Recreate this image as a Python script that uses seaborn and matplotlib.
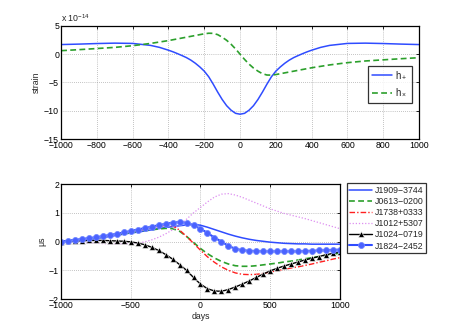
import matplotlib
matplotlib.use("Agg")
import matplotlib.pyplot as plt
import numpy as np
import pandas as pd
import seaborn as sns

# top panel: days, denser sampling around the burst
wave_days = [-1000, -900, -800, -700, -600, -500, -450, -400, -375, -350,
             -325, -300, -275, -250, -225, -200, -175, -150, -125, -100,
             -75, -50, -25, 0, 25, 50, 75, 100, 125, 150, 175, 200, 225,
             250, 275, 300, 325, 350, 375, 400, 450, 500, 600, 700, 800,
             900, 1000]
# strain waveforms, units of 1e-14
h_plus = [1.70, 1.78, 1.88, 1.95, 1.90, 1.55, 1.20, 0.70, 0.42, 0.10,
          -0.24, -0.60, -1.05, -1.60, -2.25, -3.00, -4.00, -5.30, -6.70,
          -8.00, -9.10, -9.90, -10.45, -10.60, -10.45, -9.90, -9.10, -8.00,
          -6.70, -5.30, -4.00, -3.00, -2.25, -1.60, -1.05, -0.60, -0.24,
          0.10, 0.42, 0.70, 1.20, 1.55, 1.90, 1.95, 1.88, 1.78, 1.70]
h_cross = [0.62, 0.80, 1.00, 1.20, 1.50, 1.90, 2.15, 2.40, 2.55, 2.70,
           2.85, 3.00, 3.15, 3.30, 3.45, 3.60, 3.70, 3.68, 3.45, 3.00,
           2.45, 1.75, 0.92, 0.00, -0.92, -1.75, -2.45, -3.00, -3.45,
           -3.68, -3.70, -3.60, -3.45, -3.30, -3.15, -3.00, -2.85, -2.70,
           -2.55, -2.40, -2.15, -1.90, -1.50, -1.20, -1.00, -0.80, -0.62]

# bottom panel: one sample every 50 days
days = np.arange(-1000, 1001, 50)
# timing residuals, microseconds
pulsars = ["J1909\u22123744", "J0613\u22120200", "J1738+0333",
           "J1012+5307", "J1024\u22120719", "J1824\u22122452"]
r_j1909 = [0.00, 0.02, 0.04, 0.06, 0.08, 0.11, 0.14, 0.18, 0.22, 0.26,
           0.30, 0.33, 0.37, 0.41, 0.45, 0.49, 0.52, 0.55, 0.58, 0.60,
           0.57, 0.50, 0.42, 0.34, 0.26, 0.19, 0.13, 0.08, 0.04, 0.01,
           -0.02, -0.04, -0.06, -0.07, -0.08, -0.08, -0.09, -0.09, -0.09,
           -0.09, -0.09]
r_j0613 = [0.00, 0.02, 0.04, 0.07, 0.10, 0.13, 0.16, 0.20, 0.24, 0.28,
           0.32, 0.35, 0.38, 0.41, 0.44, 0.46, 0.45, 0.36, 0.18, -0.03,
           -0.24, -0.42, -0.57, -0.69, -0.78, -0.84, -0.86, -0.86, -0.84,
           -0.81, -0.78, -0.75, -0.71, -0.68, -0.64, -0.60, -0.56, -0.52,
           -0.48, -0.44, -0.40]
r_j1738 = [0.00, 0.03, 0.05, 0.08, 0.11, 0.14, 0.18, 0.22, 0.26, 0.30,
           0.35, 0.39, 0.43, 0.48, 0.52, 0.57, 0.55, 0.40, 0.18, -0.06,
           -0.30, -0.53, -0.72, -0.88, -1.00, -1.09, -1.14, -1.15, -1.14,
           -1.11, -1.06, -1.01, -0.97, -0.92, -0.88, -0.83, -0.78, -0.72,
           -0.67, -0.61, -0.56]
r_j1012 = [0.00, -0.01, -0.02, -0.03, -0.05, -0.06, -0.07, -0.08, -0.08,
           -0.08, -0.07, -0.05, -0.01, 0.06, 0.15, 0.27, 0.41, 0.58, 0.78,
           1.00, 1.19, 1.38, 1.55, 1.65, 1.67, 1.62, 1.54, 1.44, 1.34, 1.24,
           1.14, 1.06, 0.98, 0.92, 0.86, 0.80, 0.73, 0.66, 0.59, 0.52, 0.45]
r_j1024 = [0.00, 0.01, 0.02, 0.03, 0.04, 0.04, 0.04, 0.03, 0.02, 0.01,
           -0.01, -0.05, -0.11, -0.20, -0.31, -0.45, -0.61, -0.80, -1.00,
           -1.25, -1.48, -1.64, -1.72, -1.73, -1.67, -1.58, -1.48, -1.37,
           -1.25, -1.13, -1.02, -0.93, -0.85, -0.78, -0.71, -0.64, -0.58,
           -0.52, -0.46, -0.41, -0.36]
r_j1824 = [0.00, 0.03, 0.06, 0.09, 0.12, 0.15, 0.19, 0.23, 0.27, 0.32,
           0.37, 0.42, 0.47, 0.52, 0.57, 0.62, 0.66, 0.68, 0.65, 0.57,
           0.45, 0.30, 0.14, 0.00, -0.15, -0.25, -0.30, -0.32, -0.33, -0.34,
           -0.34, -0.34, -0.34, -0.34, -0.34, -0.33, -0.32, -0.31, -0.30,
           -0.29, -0.28]
residuals = [r_j1909, r_j0613, r_j1738, r_j1012, r_j1024, r_j1824]

blue = "#2f4cff"
green = "#2ca02c"
styles = [
    dict(color=blue, linestyle="-", linewidth=1.1),
    dict(color=green, linestyle=(0, (3.5, 2)), linewidth=1.2),
    dict(color="#ff2020", linestyle=(0, (4, 1.5, 1, 1.5)), linewidth=1.0),
    dict(color="#dd8ef0", linestyle=(0, (1, 1.5)), linewidth=0.9),
    dict(color="black", linestyle="-", linewidth=1.0, marker="^",
         markersize=4.2, markeredgewidth=0.4),
    dict(color=blue, linestyle="-", linewidth=1.5, marker="o",
         markersize=4.3, markerfacecolor="#4a62ff",
         markeredgecolor="#7086ff", markeredgewidth=0.6),
]

sns.set_style("white")
plt.rcParams["font.family"] = ["Liberation Sans", "DejaVu Sans"]
plt.rcParams["font.size"] = 6.3
plt.rcParams["mathtext.fontset"] = "custom"
plt.rcParams["mathtext.rm"] = "Liberation Sans"


def matlab_axes(ax):
    for s in ax.spines.values():
        s.set_visible(True)
        s.set_color("black")
        s.set_linewidth(0.9)
    ax.tick_params(direction="in", top=True, right=True, length=2.5,
                   width=0.6, labelsize=6.3, pad=1.5, colors="black")
    ax.grid(True, linestyle=(0, (1, 2)), color="0.55", linewidth=0.5)
    ax.set_axisbelow(True)


fig = plt.figure(figsize=(4.63, 3.36), dpi=100)
ax1 = fig.add_axes([0.132, 0.586, 0.773, 0.337])
ax2 = fig.add_axes([0.132, 0.110, 0.602, 0.342])

top = pd.DataFrame({"days": wave_days, "hp": h_plus, "hx": h_cross})
sns.lineplot(data=top, x="days", y="hp", ax=ax1, color=blue, linewidth=1.1,
             label=r"h$_+$")
sns.lineplot(data=top, x="days", y="hx", ax=ax1, color=green,
             linewidth=1.2, linestyle=(0, (3.5, 2)), label=r"h$_\times$")
matlab_axes(ax1)
ax1.set_xlim(-1000, 1000)
ax1.set_ylim(-15, 5)
ax1.set_xticks(np.arange(-1000, 1001, 200))
ax1.set_yticks(np.arange(-15, 6, 5))
ax1.set_xlabel("")
ax1.set_ylabel("strain", labelpad=2)
ax1.text(0.0, 1.015, r"x 10$^{-14}$", transform=ax1.transAxes, fontsize=6.3,
         ha="left", va="bottom")
leg1 = ax1.legend(loc="upper right", bbox_to_anchor=(0.98, 0.65),
                  frameon=True, fancybox=False, handlelength=2.0,
                  borderpad=0.4, labelspacing=0.6, handletextpad=0.4,
                  borderaxespad=0, fontsize=7)
leg1.get_frame().set_edgecolor("black")
leg1.get_frame().set_linewidth(0.9)

for name, vals, st in zip(pulsars, residuals, styles):
    sns.lineplot(x=days, y=vals, ax=ax2, label=name, **st)
matlab_axes(ax2)
ax2.set_xlim(-1000, 1000)
ax2.set_ylim(-2, 2)
ax2.set_xticks(np.arange(-1000, 1001, 500))
ax2.set_yticks(np.arange(-2, 3, 1))
ax2.set_xlabel("days", labelpad=1)
ax2.set_ylabel("\u03bcs", labelpad=2)
leg2 = ax2.legend(loc="upper left", bbox_to_anchor=(1.025, 1.01),
                  frameon=True, fancybox=False, handlelength=2.6,
                  borderpad=0.3, labelspacing=0.25, handletextpad=0.3,
                  borderaxespad=0, fontsize=6.3)
leg2.get_frame().set_edgecolor("black")
leg2.get_frame().set_linewidth(0.9)

fig.savefig("out.png", dpi=100)
